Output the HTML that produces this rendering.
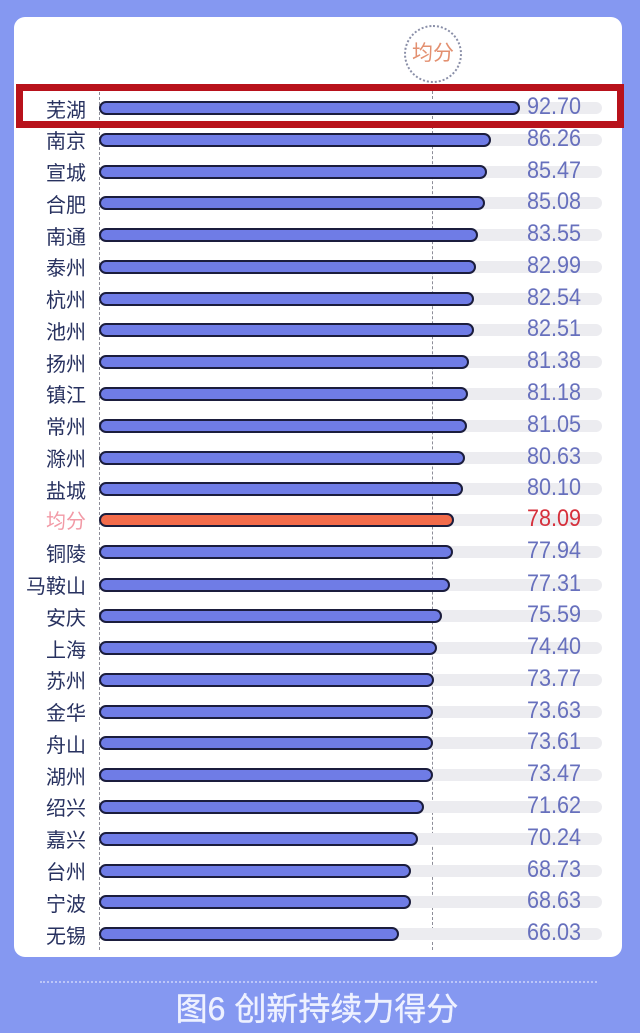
<!DOCTYPE html>
<html>
<head>
<meta charset="utf-8">
<style>
*{margin:0;padding:0}
html,body{width:640px;height:1033px;overflow:hidden}
body{background:#8598f1;position:relative;font-family:"Liberation Sans","Noto Sans CJK SC",sans-serif}
.card{position:absolute;left:14px;top:17px;width:608px;height:940px;background:#fff;border-radius:11px}
.vl{position:absolute;width:0;border-left:1px dashed #8d8d98}
.row{position:absolute;left:0;width:640px;height:32px}
.lab{position:absolute;left:0;width:86px;text-align:right;top:6.5px;font-size:20px;line-height:24px;color:#27315f;white-space:nowrap}
.trk{position:absolute;left:99px;width:503px;top:10px;height:12px;background:#ececf0;border-radius:6px}
.bar{position:absolute;left:99px;top:9px;height:14px;box-sizing:border-box;border:2px solid #1b1d3d;border-radius:7px;background:#6f7ce6}
.val{position:absolute;left:527px;top:3px;font-size:24px;line-height:24px;color:#6770bd;transform:scaleX(.9);transform-origin:left center;white-space:nowrap}
.avg .lab{color:#f29aa6}
.avg .bar{background:#f26b4a}
.avg .val{color:#d6303c}
.red{position:absolute;left:16px;top:84px;width:608px;height:44px;box-sizing:border-box;border:7px solid #b8121b}
.circ{position:absolute;left:404px;top:25px;width:58px;height:58px;box-sizing:border-box;border:2px dotted #8a8fa8;border-radius:50%;text-align:center;line-height:54px;font-size:21px;color:#e39070}
.dots{position:absolute;left:40px;top:981px;width:557px;border-top:2px dotted #bcc6f8}
.title{position:absolute;left:0;width:634px;top:993px;text-align:center;font-size:32px;line-height:32px;color:#eef1ff;white-space:nowrap;-webkit-text-stroke:0.4px #eef1ff}
</style>
</head>
<body>
<div class="card"></div>
<div class="vl" style="left:99px;top:92px;height:858px"></div>
<div class="vl" style="left:432px;top:86px;height:864px"></div>
<div class="circ">均分</div>

<div class="row" style="top:92px"><div class="lab">芜湖</div><div class="trk"></div><div class="bar" style="width:421px"></div><div class="val">92.70</div></div>
<div class="row" style="top:123.8px"><div class="lab">南京</div><div class="trk"></div><div class="bar" style="width:391.6px"></div><div class="val">86.26</div></div>
<div class="row" style="top:155.5px"><div class="lab">宣城</div><div class="trk"></div><div class="bar" style="width:388px"></div><div class="val">85.47</div></div>
<div class="row" style="top:187.3px"><div class="lab">合肥</div><div class="trk"></div><div class="bar" style="width:386.3px"></div><div class="val">85.08</div></div>
<div class="row" style="top:219.1px"><div class="lab">南通</div><div class="trk"></div><div class="bar" style="width:379.3px"></div><div class="val">83.55</div></div>
<div class="row" style="top:250.9px"><div class="lab">泰州</div><div class="trk"></div><div class="bar" style="width:376.8px"></div><div class="val">82.99</div></div>
<div class="row" style="top:282.6px"><div class="lab">杭州</div><div class="trk"></div><div class="bar" style="width:374.7px"></div><div class="val">82.54</div></div>
<div class="row" style="top:314.4px"><div class="lab">池州</div><div class="trk"></div><div class="bar" style="width:374.6px"></div><div class="val">82.51</div></div>
<div class="row" style="top:346.2px"><div class="lab">扬州</div><div class="trk"></div><div class="bar" style="width:369.5px"></div><div class="val">81.38</div></div>
<div class="row" style="top:377.9px"><div class="lab">镇江</div><div class="trk"></div><div class="bar" style="width:368.6px"></div><div class="val">81.18</div></div>
<div class="row" style="top:409.7px"><div class="lab">常州</div><div class="trk"></div><div class="bar" style="width:368px"></div><div class="val">81.05</div></div>
<div class="row" style="top:441.5px"><div class="lab">滁州</div><div class="trk"></div><div class="bar" style="width:366.1px"></div><div class="val">80.63</div></div>
<div class="row" style="top:473.2px"><div class="lab">盐城</div><div class="trk"></div><div class="bar" style="width:363.7px"></div><div class="val">80.10</div></div>
<div class="row avg" style="top:503.5px"><div class="lab">均分</div><div class="trk"></div><div class="bar" style="width:354.5px"></div><div class="val">78.09</div></div>
<div class="row" style="top:536.3px"><div class="lab">铜陵</div><div class="trk"></div><div class="bar" style="width:353.9px"></div><div class="val">77.94</div></div>
<div class="row" style="top:568.6px"><div class="lab">马鞍山</div><div class="trk"></div><div class="bar" style="width:351px"></div><div class="val">77.31</div></div>
<div class="row" style="top:600.3px"><div class="lab">安庆</div><div class="trk"></div><div class="bar" style="width:343.2px"></div><div class="val">75.59</div></div>
<div class="row" style="top:632.1px"><div class="lab">上海</div><div class="trk"></div><div class="bar" style="width:337.8px"></div><div class="val">74.40</div></div>
<div class="row" style="top:663.9px"><div class="lab">苏州</div><div class="trk"></div><div class="bar" style="width:334.9px"></div><div class="val">73.77</div></div>
<div class="row" style="top:695.6px"><div class="lab">金华</div><div class="trk"></div><div class="bar" style="width:334.3px"></div><div class="val">73.63</div></div>
<div class="row" style="top:727.4px"><div class="lab">舟山</div><div class="trk"></div><div class="bar" style="width:334.2px"></div><div class="val">73.61</div></div>
<div class="row" style="top:759.2px"><div class="lab">湖州</div><div class="trk"></div><div class="bar" style="width:333.6px"></div><div class="val">73.47</div></div>
<div class="row" style="top:790.9px"><div class="lab">绍兴</div><div class="trk"></div><div class="bar" style="width:325.2px"></div><div class="val">71.62</div></div>
<div class="row" style="top:822.7px"><div class="lab">嘉兴</div><div class="trk"></div><div class="bar" style="width:318.9px"></div><div class="val">70.24</div></div>
<div class="row" style="top:854.5px"><div class="lab">台州</div><div class="trk"></div><div class="bar" style="width:312px"></div><div class="val">68.73</div></div>
<div class="row" style="top:886.3px"><div class="lab">宁波</div><div class="trk"></div><div class="bar" style="width:311.6px"></div><div class="val">68.63</div></div>
<div class="row" style="top:918px"><div class="lab">无锡</div><div class="trk"></div><div class="bar" style="width:299.8px"></div><div class="val">66.03</div></div>

<div class="red"></div>
<div class="dots"></div>
<div class="title">图6 创新持续力得分</div>
</body>
</html>
